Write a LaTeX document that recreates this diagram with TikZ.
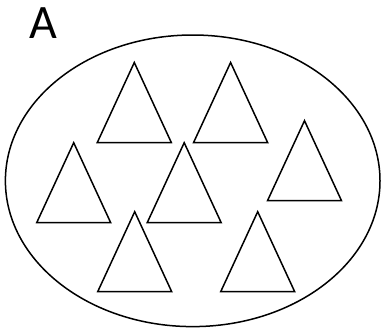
\documentclass[tikz,border=0pt]{standalone}
\usepackage{fontspec}
\setmainfont{Carlito}
\begin{document}
\begin{tikzpicture}[x=1pt,y=-1pt,line width=1.5pt]
\useasboundingbox (0,0) rectangle (382,330);
\draw (192.7,180.8) ellipse (187.3 and 145.8);
\foreach \x/\y in {134.3/62.5,230.6/62.5,304.5/120.7,73.7/142.7,184.2/142.7,134.7/211.7,257.7/211.7}
  \draw[line join=miter] (\x,\y) -- ++(-37,80) -- ++(74,0) -- cycle;
\node (setlabel) [anchor=base west,inner sep=0pt,font=\fontsize{48}{48}\selectfont] at (29,38) {A};
\end{tikzpicture}
\end{document}
